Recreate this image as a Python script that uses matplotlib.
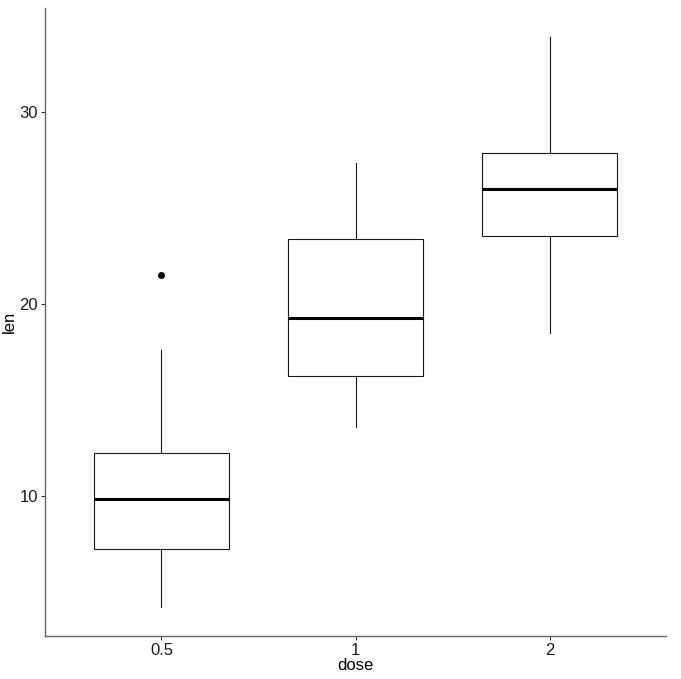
import matplotlib
matplotlib.use("Agg")
import matplotlib.pyplot as plt

plt.rcParams["font.family"] = ["Liberation Sans", "DejaVu Sans"]

# box stats (ToothGrowth len by dose)
doses = ["0.5", "1", "2"]
whislo = [4.2, 13.6, 18.5]
q1 = [7.225, 16.25, 23.525]
med = [9.85, 19.25, 25.95]
q3 = [12.25, 23.375, 27.825]
whishi = [17.6, 27.3, 33.9]
outliers = [[21.5], [], []]

stats = []
for i, d in enumerate(doses):
    stats.append(dict(label=d, whislo=whislo[i], q1=q1[i], med=med[i],
                      q3=q3[i], whishi=whishi[i], fliers=outliers[i]))

fig = plt.figure(figsize=(6.81, 6.79), dpi=100)
ax = fig.add_axes([45 / 681, 43 / 679, 621 / 681, 628 / 679])

ax.bxp(stats, positions=[1, 2, 3], widths=0.7, showcaps=False,
       patch_artist=True,
       boxprops=dict(facecolor="white", edgecolor="#1a1a1a", linewidth=0.8),
       medianprops=dict(color="black", linewidth=2.2),
       whiskerprops=dict(color="#1a1a1a", linewidth=0.8),
       flierprops=dict(marker="o", markerfacecolor="black",
                       markeredgecolor="black", markersize=4))

ax.set_xlim(0.4, 3.6)
ax.set_ylim(2.715, 35.385)
ax.set_yticks([10, 20, 30])
ax.set_xticks([1, 2, 3])
ax.set_xticklabels(doses)

for s in ["top", "right"]:
    ax.spines[s].set_visible(False)
for s in ["left", "bottom"]:
    ax.spines[s].set_color("#666666")
    ax.spines[s].set_linewidth(1.0)

ax.tick_params(axis="both", length=3, width=0.8, color="#333333",
               labelsize=12, labelcolor="#1a1a1a", pad=2)
ax.set_xlabel("dose", fontsize=12, labelpad=0)
ax.set_ylabel("len", fontsize=12, labelpad=2)

fig.savefig("out.png", dpi=100)
